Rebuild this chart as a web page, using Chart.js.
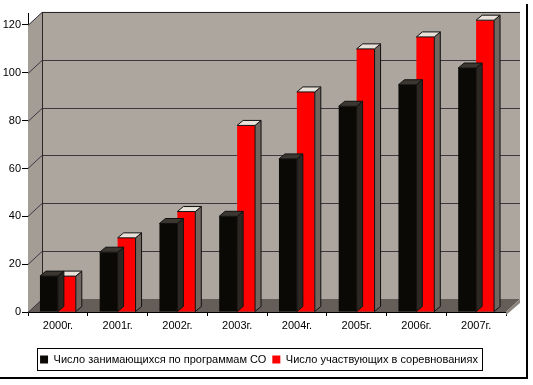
<!DOCTYPE html>
<html>
<head>
<meta charset="utf-8">
<script src="https://cdn.jsdelivr.net/npm/chart.js@4"></script>
<style>
  html, body { margin: 0; padding: 0; background: #fff; }
  #wrap { width: 533px; height: 385px; position: relative; }
</style>
</head>
<body>
<div id="wrap"><canvas id="grafico" width="533" height="385"></canvas></div>
<script>
const years = ['2000г.', '2001г.', '2002г.', '2003г.', '2004г.', '2005г.', '2006г.', '2007г.'];
const zanimayushchihsya = [15, 25, 37, 40, 64, 86, 95, 102];
const uchastvuyushchih = [15, 31, 42, 78, 92, 110, 115, 122];
const yTicks = [0, 20, 40, 60, 80, 100, 120];

// depth of the walls and of the bars (pseudo 3D)
const DX = 14, DY = -13;
const BX = 6, BY = -5;

const wallPlugin = {
  id: 'wall',
  afterLayout(chart) {
    // legend box sits a bit to the right and lower in the original
    const lg = chart.legend;
    if (lg) {
      lg.left += 6; lg.right += 6;
      lg.top += 2; lg.bottom += 2;
    }
  },
  beforeDatasetsDraw(chart) {
    const ctx = chart.ctx;
    const y = chart.scales.y;
    const a = chart.chartArea;
    const L = a.left, R = a.right;
    const B = y.getPixelForValue(0), T = y.getPixelForValue(120);
    ctx.save();
    // back wall
    ctx.fillStyle = '#aca69f';
    ctx.fillRect(L + DX, T + DY, R - L, B - T);
    // left wall
    ctx.fillStyle = '#a39d96';
    ctx.beginPath();
    ctx.moveTo(L, T); ctx.lineTo(L + DX, T + DY); ctx.lineTo(L + DX, B + DY); ctx.lineTo(L, B);
    ctx.closePath(); ctx.fill();
    // floor
    ctx.fillStyle = '#655e58';
    ctx.beginPath();
    ctx.moveTo(L, B); ctx.lineTo(L + DX, B + DY); ctx.lineTo(R + DX, B + DY); ctx.lineTo(R, B);
    ctx.closePath(); ctx.fill();
    // floor slab front
    ctx.fillStyle = '#8a847d';
    ctx.beginPath();
    ctx.moveTo(R, B); ctx.lineTo(R + DX, B + DY); ctx.lineTo(R + DX, B + DY + 4); ctx.lineTo(R, B + 3);
    ctx.closePath(); ctx.fill();
    // gridlines
    ctx.strokeStyle = '#3d3742';
    ctx.lineWidth = 1;
    yTicks.forEach(v => {
      const py = Math.round(y.getPixelForValue(v)) + 0.5;
      if (v > 0) {
        ctx.beginPath();
        ctx.moveTo(L + DX, py + DY); ctx.lineTo(R + DX, py + DY);
        ctx.stroke();
      }
      ctx.beginPath();
      ctx.moveTo(L, py); ctx.lineTo(L + DX, py + DY);
      ctx.stroke();
    });
    // wall edges
    ctx.strokeStyle = '#2a2528';
    ctx.beginPath();
    ctx.moveTo(L + DX + 0.5, T + DY); ctx.lineTo(L + DX + 0.5, B + DY);
    ctx.moveTo(L + DX, T + DY + 0.5); ctx.lineTo(R + DX, T + DY + 0.5);
    ctx.stroke();
    ctx.restore();
  },
  afterDatasetDraw(chart, args) {
    const ctx = chart.ctx;
    const meta = args.meta;
    const isRed = args.index === 1;
    ctx.save();
    ctx.lineWidth = 1;
    ctx.strokeStyle = '#111';
    meta.data.forEach(bar => {
      const p = bar.getProps(['x', 'y', 'base', 'width'], true);
      const l = p.x - p.width / 2, r = p.x + p.width / 2;
      const t = p.y, b = p.base;
      // side
      ctx.fillStyle = isRed ? '#716660' : '#2b2722';
      ctx.beginPath();
      ctx.moveTo(r, t); ctx.lineTo(r + BX, t + BY); ctx.lineTo(r + BX, b + BY); ctx.lineTo(r, b);
      ctx.closePath(); ctx.fill(); ctx.stroke();
      // top
      ctx.fillStyle = isRed ? '#e9e2da' : '#3b3630';
      ctx.beginPath();
      ctx.moveTo(l, t); ctx.lineTo(l + BX, t + BY); ctx.lineTo(r + BX, t + BY); ctx.lineTo(r, t);
      ctx.closePath(); ctx.fill(); ctx.stroke();
    });
    ctx.restore();
  },
  afterDraw(chart) {
    const ctx = chart.ctx;
    const lg = chart.legend;
    ctx.save();
    if (lg && lg.legendHitBoxes.length) {
      const hb = lg.legendHitBoxes;
      const x0 = hb[0].left - 3;
      const x1 = hb[hb.length - 1].left + hb[hb.length - 1].width + 4;
      const y0 = hb[0].top - 6, y1 = hb[0].top + hb[0].height + 5;
      ctx.strokeStyle = '#000';
      ctx.lineWidth = 1;
      ctx.strokeRect(Math.round(x0) + 0.5, Math.round(y0) + 0.5, Math.round(x1 - x0), Math.round(y1 - y0));
    }
    // outer frame
    ctx.strokeStyle = '#000';
    ctx.lineWidth = 2;
    ctx.beginPath();
    ctx.moveTo(527, 4); ctx.lineTo(527, 378); ctx.lineTo(0, 378);
    ctx.stroke();
    ctx.restore();
  }
};

Chart.defaults.font.family = '"Liberation Sans", Arial, sans-serif';
Chart.defaults.font.size = 11;
Chart.defaults.color = '#000';

const ctx = document.getElementById('grafico').getContext('2d');
const chart = new Chart(ctx, {
  type: 'bar',
  data: {
    labels: years,
    datasets: [{
      label: 'Число занимающихся по программам СО',
      data: zanimayushchihsya,
      backgroundColor: '#0a0905',
      borderWidth: 0
    }, {
      label: 'Число участвующих в соревнованиях',
      data: uchastvuyushchih,
      backgroundColor: '#ff0000',
      borderWidth: 0
    }]
  },
  options: {
    responsive: false,
    animation: false,
    categoryPercentage: 0.6,
    barPercentage: 1.0,
    layout: { padding: { left: 0, right: 27, top: 13, bottom: 12 } },
    plugins: {
      tooltip: { enabled: false },
      legend: {
        position: 'bottom',
        labels: {
          boxWidth: 8,
          boxHeight: 8,
          padding: 6,
          font: { size: 11 }
        }
      }
    },
    scales: {
      x: {
        grid: { drawOnChartArea: false, drawTicks: true, tickLength: 4, color: '#000' },
        border: { color: '#000' },
        ticks: { padding: 3 },
        afterFit(s) { s.height = 34; }
      },
      y: {
        min: 0,
        max: 125,
        grid: { drawOnChartArea: false, drawTicks: true, tickLength: 6, color: '#000' },
        border: { color: '#000' },
        ticks: {
          stepSize: 20,
          includeBounds: false,
          padding: 1,
          callback: v => (yTicks.includes(v) ? v : '')
        },
        afterFit(s) { s.width = 28; }
      }
    }
  },
  plugins: [wallPlugin]
});
</script>
</body>
</html>
